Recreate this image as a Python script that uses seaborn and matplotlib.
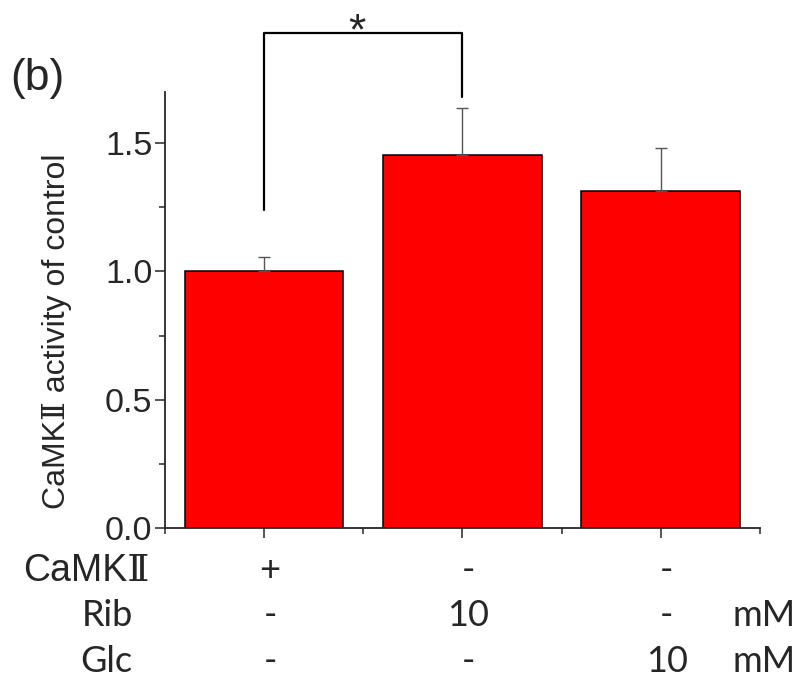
import pandas as pd
import seaborn as sns
import matplotlib.pyplot as plt
from matplotlib.ticker import MultipleLocator, FixedLocator
from matplotlib.transforms import blended_transform_factory

# data
conditions = ["Control", "Rib 10 mM", "Glc 10 mM"]
activity = [1.00, 1.455, 1.313]
sem = [0.056, 0.182, 0.166]

# treatment table under the axis
row_names = ["CaMKⅡ", "Rib", "Glc"]
camk_row = ["+", "-", "-"]
rib_row = ["-", "10", "-"]
glc_row = ["-", "-", "10"]
unit_row = ["", "mM", "mM"]

# significance bracket between group 0 and 1
sig_pair = (0, 1)
sig_top = 1.93
sig_feet = [1.24, 1.68]
sig_label = "*"

sns.set_style("ticks")
plt.rcParams["font.family"] = ["Liberation Sans", "DejaVu Serif", "Noto Sans CJK JP", "DejaVu Sans"]

df = pd.DataFrame({"condition": conditions, "activity": activity, "sem": sem})

fig = plt.figure(figsize=(8, 6.78), dpi=100)
ax = fig.add_axes([0.206, 0.2212, 0.744, 0.6436])

sns.barplot(data=df, x="condition", y="activity", color="#ff0000", saturation=1,
            edgecolor="black", linewidth=1.1, width=0.8, errorbar=None, ax=ax)
ax.errorbar(range(len(df)), df["activity"], yerr=[[0] * len(df), df["sem"]],
            fmt="none", ecolor="#555555", elinewidth=1.0, capsize=4, capthick=1.0, zorder=1)

ax.set_xlim(-0.5, 2.5)
ax.set_ylim(0, 1.7)
ax.yaxis.set_major_locator(MultipleLocator(0.5))
ax.yaxis.set_minor_locator(MultipleLocator(0.25))
ax.xaxis.set_minor_locator(FixedLocator([-0.5, 0.5, 1.5, 2.5]))
ax.set_xticklabels([])
ax.set_xlabel("")
ax.tick_params(axis="both", which="major", length=7, width=1.1, labelsize=24.5, pad=2)
ax.tick_params(axis="both", which="minor", length=4, width=1.1)
ax.yaxis.set_major_formatter(plt.FuncFormatter(lambda v, p: f"{v:.1f}"))
for s in ["left", "bottom"]:
    ax.spines[s].set_linewidth(1.3)
sns.despine(ax=ax)

ax.set_ylabel("CaMKⅡ activity of control", fontsize=23)
ax.yaxis.label.set_va("center")
ax.yaxis.set_label_coords(-0.1815, 0.45)

# significance bracket
x0, x1 = sig_pair
ax.plot([x0, x0, x1, x1], [sig_feet[0], sig_top, sig_top, sig_feet[1]],
        color="black", lw=1.6, clip_on=False)
ax.text((x0 + x1) / 2 - 0.03, sig_top - 0.045, sig_label, ha="center", va="baseline",
        fontsize=32, clip_on=False)

fig.text(0.047, 0.884, "(b)", fontsize=32, ha="center", va="center")

# treatment rows
lat = ["Lato", "Open Sans", "DejaVu Sans"]
row_y = [0.158, 0.0915, 0.025]
rows = [camk_row, rib_row, glc_row]
cell_trans = blended_transform_factory(ax.transData, fig.transFigure)
fig.text(0.1875, row_y[0], row_names[0], fontsize=27, ha="right", va="center")
for name, yy in zip(row_names[1:], row_y[1:]):
    fig.text(0.166, yy, name, fontsize=26, ha="right", va="center", family=lat)
for i, (vals, yy) in enumerate(zip(rows, row_y)):
    for j, v in enumerate(vals):
        ax.text(j + 0.03, yy, v, transform=cell_trans, fontsize=26,
                ha="center", va="center", family=lat, clip_on=False)
    if unit_row[i]:
        fig.text(0.955, yy, unit_row[i], fontsize=26, ha="center", va="center", family=lat)

fig.savefig("out.png", dpi=100)
